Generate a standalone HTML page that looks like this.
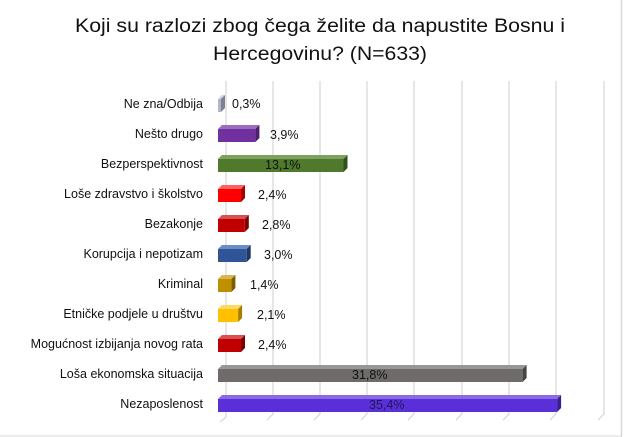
<!DOCTYPE html>
<html><head><meta charset="utf-8"><style>
html,body{margin:0;padding:0;background:#fff;}
svg{display:block;font-family:"Liberation Sans",sans-serif;}
</style></head><body>
<svg width="639" height="437" viewBox="0 0 639 437">
<rect x="0" y="0" width="639" height="437" fill="#fff"/>
<line x1="621.5" y1="0" x2="621.5" y2="437" stroke="#d9d9d9" stroke-width="1.5"/>
<line x1="0" y1="436" x2="622" y2="436" stroke="#d9d9d9"/>
<text x="320" y="32" font-size="19" text-anchor="middle" textLength="490" lengthAdjust="spacingAndGlyphs" fill="#111">Koji su razlozi zbog čega želite da napustite Bosnu i</text>
<text x="320" y="60" font-size="19" text-anchor="middle" textLength="214" lengthAdjust="spacingAndGlyphs" fill="#111">Hercegovinu? (N=633)</text>
<g stroke="#d9d9d9" stroke-width="1.3" fill="none">
<path d="M226 81V417"/>
<path d="M273 81V414L267 420M320 81V414L314 420M367 81V414L361 420M414 81V414L408 420M462 81V414L456 420M509 81V414L503 420M556 81V414L550 420M604 81V414L598 420"/>
<path d="M226 417L220 422"/>
</g>
<g font-size="12.5" fill="#111" text-anchor="end">
<text x="203" y="108">Ne zna/Odbija</text>
<text x="203" y="138">Nešto drugo</text>
<text x="203" y="168">Bezperspektivnost</text>
<text x="203" y="198">Loše zdravstvo i školstvo</text>
<text x="203" y="228">Bezakonje</text>
<text x="203" y="258">Korupcija i nepotizam</text>
<text x="203" y="288">Kriminal</text>
<text x="203" y="318">Etničke podjele u društvu</text>
<text x="203" y="348">Mogućnost izbijanja novog rata</text>
<text x="203" y="378">Loša ekonomska situacija</text>
<text x="203" y="408">Nezaposlenost</text>
</g>
<!-- bars -->
<g>
<polygon points="218,99 222,95 225,95 221,99" fill="#cfd3dc"/><polygon points="221,99 225,95 225,108 221,112" fill="#7d8290"/><rect x="218" y="99" width="3" height="13" fill="#b0b6c4"/>
<polygon points="218,129 222,125 259.4,125 255.4,129" fill="#9a6cc0"/><polygon points="255.4,129 259.4,125 259.4,138 255.4,142" fill="#4a1f6b"/><rect x="218" y="129" width="37.4" height="13" fill="#7030a0"/>
<polygon points="218,159 222,155 347.5,155 343.5,159" fill="#7fa060"/><polygon points="343.5,159 347.5,155 347.5,168 343.5,172" fill="#33501c"/><rect x="218" y="159" width="125.5" height="13" fill="#4f7a2c"/>
<polygon points="218,189 222,185 245,185 241,189" fill="#ff6060"/><polygon points="241,189 245,185 245,198 241,202" fill="#a80000"/><rect x="218" y="189" width="23" height="13" fill="#ff0000"/>
<polygon points="218,219 222,215 248.8,215 244.8,219" fill="#d85050"/><polygon points="244.8,219 248.8,215 248.8,228 244.8,232" fill="#7d0000"/><rect x="218" y="219" width="26.8" height="13" fill="#c00000"/>
<polygon points="218,249 222,245 250.7,245 246.7,249" fill="#6b8cc4"/><polygon points="246.7,249 250.7,245 250.7,258 246.7,262" fill="#1e3763"/><rect x="218" y="249" width="28.7" height="13" fill="#2f5597"/>
<polygon points="218,279 222,275 235.4,275 231.4,279" fill="#dab550"/><polygon points="231.4,279 235.4,275 235.4,288 231.4,292" fill="#7c5d00"/><rect x="218" y="279" width="13.4" height="13" fill="#bf8f00"/>
<polygon points="218,309 222,305 242.1,305 238.1,309" fill="#ffd860"/><polygon points="238.1,309 242.1,305 242.1,318 238.1,322" fill="#a67d00"/><rect x="218" y="309" width="20.1" height="13" fill="#ffc000"/>
<polygon points="218,339 222,335 245,335 241,339" fill="#d85050"/><polygon points="241,339 245,335 245,348 241,352" fill="#7d0000"/><rect x="218" y="339" width="23" height="13" fill="#c00000"/>
<polygon points="218,369 222,365 526.6,365 522.6,369" fill="#9a9696"/><polygon points="522.6,369 526.6,365 526.6,378 522.6,382" fill="#464343"/><rect x="218" y="369" width="304.6" height="13" fill="#6f6b6b"/>
<polygon points="218,399 222,395 561.1,395 557.1,399" fill="#8a6ae6"/><polygon points="557.1,399 561.1,395 561.1,408 557.1,412" fill="#3a1e8c"/><rect x="218" y="399" width="339.1" height="13" fill="#5b2fd8"/>
</g>
<g font-size="12.5" fill="#111">
<text x="232" y="108">0,3%</text>
<text x="270" y="139">3,9%</text>
<text x="265" y="169">13,1%</text>
<text x="258" y="199">2,4%</text>
<text x="262" y="229">2,8%</text>
<text x="264" y="259">3,0%</text>
<text x="250" y="289">1,4%</text>
<text x="257" y="319">2,1%</text>
<text x="258" y="349">2,4%</text>
<text x="352" y="379">31,8%</text>
<text x="369" y="409" fill="#1a1a5a">35,4%</text>
</g>
</svg>
</body></html>
